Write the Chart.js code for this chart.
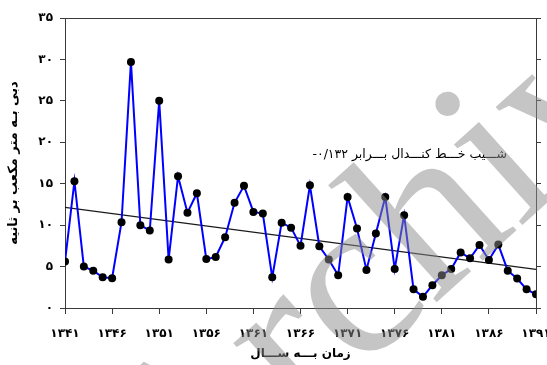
<!DOCTYPE html>
<html>
<head>
<meta charset="utf-8">
<script src="https://cdn.jsdelivr.net/npm/chart.js@4.4.1/dist/chart.umd.min.js"></script>
<style>
  html, body { margin: 0; padding: 0; background: #fff; }
  #wrap { width: 547px; height: 365px; position: relative; }
</style>
</head>
<body>
<div id="wrap"><canvas id="flowChart" width="547" height="365"></canvas></div>
<script>
// years (solar hijri) and mean discharge values
var years = [1341, 1342, 1343, 1344, 1345, 1346, 1347, 1348, 1349, 1350,
             1351, 1352, 1353, 1354, 1355, 1356, 1357, 1358, 1359, 1360,
             1361, 1362, 1363, 1364, 1365, 1366, 1367, 1368, 1369, 1370,
             1371, 1372, 1373, 1374, 1375, 1376, 1377, 1378, 1379, 1380,
             1381, 1382, 1383, 1384, 1385, 1386, 1387, 1388, 1389, 1390, 1391];
var flow = [5.6, 15.3, 5.0, 4.5, 3.7, 3.6, 10.35, 29.7, 10.0, 9.35,
            25.0, 5.85, 15.9, 11.5, 13.85, 5.9, 6.15, 8.55, 12.7, 14.75,
            11.6, 11.4, 3.7, 10.3, 9.7, 7.5, 14.8, 7.45, 5.85, 3.95,
            13.4, 9.6, 4.6, 9.0, 13.4, 4.7, 11.2, 2.25, 1.35, 2.75,
            3.95, 4.7, 6.7, 6.0, 7.6, 5.8, 7.65, 4.5, 3.55, 2.25, 1.65];
// kendal trend line end points
var trendYears = [1341, 1391];
var trendValues = [12.15, 4.65];

var slopeLabel = 'شـــیب خـــط کنـــدال بـــرابر ۰/۱۳۲-';
var xTitle = 'زمان بـــه ســـال';
var yTitle = 'دبی بـه متر مکعب بر ثانیه';
var watermark = 'Archive';

var faDigits = ['۰', '۱', '۲', '۳', '۴', '۵', '۶', '۷', '۸', '۹'];
function toFa(n) {
    return String(n).replace(/[0-9]/g, function(d) { return faDigits[+d]; });
}

var seriesPoints = years.map(function(y, i) { return { x: y, y: flow[i] }; });
var trendPoints = trendYears.map(function(y, i) { return { x: y, y: trendValues[i] }; });

var axisColor = '#3a3a3a';
var tickFont = { family: 'DejaVu Sans', size: 12, weight: 'bold' };

var extras = {
    id: 'extras',
    afterDraw: function(chart) {
        var ctx = chart.ctx;
        var area = chart.chartArea;
        ctx.save();
        // top frame line
        ctx.strokeStyle = axisColor;
        ctx.lineWidth = 1;
        ctx.beginPath();
        ctx.moveTo(area.left, area.top + 0.5);
        ctx.lineTo(area.right, area.top + 0.5);
        ctx.stroke();

        // slope note
        ctx.fillStyle = '#000';
        ctx.font = '12.5px "DejaVu Sans"';
        ctx.direction = 'rtl';
        ctx.textAlign = 'right';
        ctx.textBaseline = 'middle';
        ctx.fillText(slopeLabel, 507, 155);

        // grey watermark over the plot
        ctx.direction = 'ltr';
        ctx.textAlign = 'left';
        ctx.textBaseline = 'alphabetic';
        ctx.translate(177, 536);
        ctx.rotate(-42 * Math.PI / 180);
        ctx.fillStyle = 'rgba(140, 140, 140, 0.5)';
        ctx.font = '230px "Liberation Serif"';
        ctx.fillText(watermark, 0, 0);
        ctx.restore();
    }
};

var ctx1 = document.getElementById('flowChart').getContext('2d');
var flowChart = new Chart(ctx1, {
    type: 'line',
    data: {
        datasets: [{
            data: seriesPoints,
            borderColor: '#0000ff',
            borderWidth: 2,
            pointRadius: 4,
            pointBackgroundColor: '#000',
            pointBorderColor: '#000',
            pointBorderWidth: 0,
            tension: 0
        }, {
            data: trendPoints,
            borderColor: '#1a1a1a',
            borderWidth: 1.3,
            pointRadius: 0,
            tension: 0
        }]
    },
    options: {
        responsive: false,
        animation: false,
        layout: { padding: { top: 18, right: 0, left: 0, bottom: 0 } },
        plugins: {
            legend: { display: false },
            tooltip: { enabled: false }
        },
        scales: {
            x: {
                type: 'linear',
                min: 1341,
                max: 1391,
                border: { color: axisColor, width: 1 },
                grid: { drawOnChartArea: false, tickLength: 6, color: axisColor },
                ticks: {
                    stepSize: 5,
                    color: '#000',
                    font: tickFont,
                    padding: 13,
                    maxRotation: 0,
                    callback: function(v) { return toFa(v); }
                },
                title: {
                    display: true,
                    text: xTitle,
                    color: '#000',
                    font: { family: 'DejaVu Sans', size: 12, weight: 'bold' },
                    padding: { top: 2, bottom: 4 }
                },
                afterFit: function(scale) {
                    scale.height = 57;
                    scale.paddingLeft = 0;
                    scale.paddingRight = 0;
                }
            },
            y: {
                min: 0,
                max: 35,
                border: { color: axisColor, width: 1 },
                grid: { drawOnChartArea: false, tickLength: 5, color: axisColor },
                ticks: {
                    stepSize: 5,
                    color: '#000',
                    font: tickFont,
                    padding: 7,
                    callback: function(v) { return toFa(v); }
                },
                title: {
                    display: true,
                    text: yTitle,
                    color: '#000',
                    font: { family: 'DejaVu Sans', size: 13, weight: 'bold' },
                    padding: { top: 6, bottom: 0 }
                },
                afterFit: function(scale) { scale.width = 65; }
            },
            y2: {
                position: 'right',
                min: 0,
                max: 35,
                border: { color: axisColor, width: 1 },
                grid: { drawOnChartArea: false, tickLength: 5, color: axisColor },
                ticks: { stepSize: 5, display: false },
                afterFit: function(scale) { scale.width = 11; }
            }
        }
    },
    plugins: [extras]
});
</script>
</body>
</html>
